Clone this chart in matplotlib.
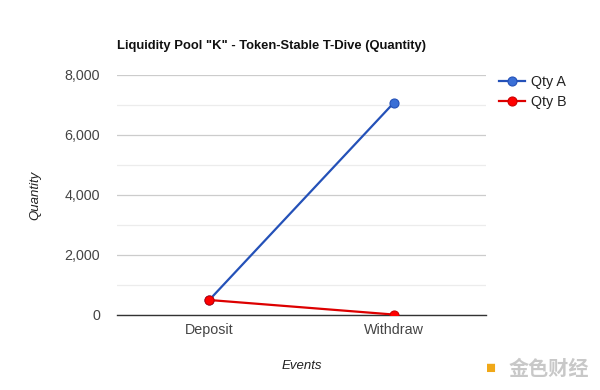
import matplotlib
matplotlib.use("Agg")
import matplotlib.pyplot as plt
from matplotlib.ticker import FuncFormatter, MultipleLocator

plt.rcParams['font.family'] = ['Liberation Sans', 'DejaVu Sans']

categories = ["Deposit", "Withdraw"]
qty_a = [500, 7070]
qty_b = [500, 15]
series_names = ["Qty A", "Qty B"]
title = 'Liquidity Pool "K" - Token-Stable T-Dive (Quantity)'

fig = plt.figure(figsize=(6, 3.9), dpi=100)
ax = fig.add_axes([117/600, (390-315)/390, (486-117)/600, (315-75)/390])

x = list(range(len(categories)))
ax.plot(x, qty_a, color='#2451b8', lw=1.6, marker='o', ms=6.5,
        mfc='#3a6fd6', mec='#2451b8', mew=0.8, label=series_names[0], zorder=3)
ax.plot(x, qty_b, color='#dd0000', lw=1.6, marker='o', ms=6.5,
        mfc='#ff0000', mec='#cc0000', mew=0.8, label=series_names[1], zorder=4)

ax.set_xlim(-0.5, 1.5)
ax.set_ylim(0, 8000)
ax.set_xticks(x)
ax.set_xticklabels(categories)
ax.yaxis.set_major_locator(MultipleLocator(2000))
ax.yaxis.set_minor_locator(MultipleLocator(1000))
ax.yaxis.set_major_formatter(FuncFormatter(lambda v, p: f"{int(v):,}"))
ax.grid(axis='y', which='major', color='#cccccc', lw=0.9)
ax.grid(axis='y', which='minor', color='#ececec', lw=0.9)
ax.set_axisbelow(True)
for s in ['top', 'right', 'left']:
    ax.spines[s].set_visible(False)
ax.spines['bottom'].set_color('#333333')
ax.spines['bottom'].set_linewidth(1.0)
ax.tick_params(axis='both', which='both', length=0, labelsize=10.3, colors='#444444')
ax.tick_params(axis='y', pad=12)
ax.tick_params(axis='x', pad=6)
ax.set_ylabel("Quantity", fontstyle='italic', fontsize=9.5, color='#222222', labelpad=17)
ax.set_xlabel("Events", fontstyle='italic', fontsize=9.5, color='#222222', labelpad=16)

fig.text(117/600, 1 - 46/390, title, fontsize=9.4, fontweight='bold', color='#111111',
         va='center', ha='left')

leg = ax.legend(loc='upper left', bbox_to_anchor=(1.02, 1.025), frameon=False,
                fontsize=10.3, handlelength=1.8, labelspacing=0.45, borderaxespad=0.0,
                handletextpad=0.4)
for t in leg.get_texts():
    t.set_color('#222222')

# watermark
fig.text(486/600, 1 - 368/390, "■", fontsize=12, color='#f0a818', va='center', ha='left')
fig.text(509/600, 1 - 368/390, "金色财经", fontsize=14.5, color='#c8c8c8', va='center', ha='left',
         family=['Noto Sans CJK SC', 'DejaVu Sans'], fontweight='bold')

fig.savefig("out.png", dpi=100, facecolor='white')
